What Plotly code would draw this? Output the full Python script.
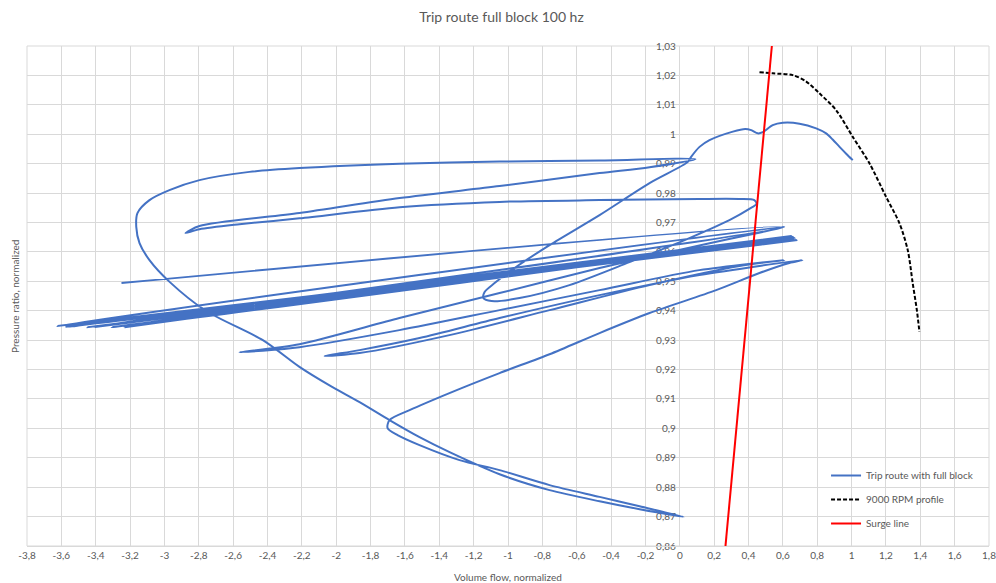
import plotly.graph_objects as go

# Trip route with full block: normalized volume flow vs pressure ratio
trip_flow = [
    1.007, 0.970, 0.930, 0.890, 0.852, 0.794, 0.697, 0.600, 0.541, 0.483, 0.454, 0.416, 0.381, 0.309, 0.173, 0.115, 0.066, 0.047,
    -0.176, -0.467, -0.758, -0.962, -1.078, -1.137, -1.143, -1.096, -0.933, -0.642, -0.293, 0.056, 0.289, 0.405, 0.446, 0.434,
    0.347, 0.114, -0.467, -1.049, -1.631, -2.214, -2.563, -2.796, -2.877,
    -2.796, -2.214, -1.631, -1.049, -0.467, -0.176, 0.091,
    -0.467, -1.049, -1.631, -2.214, -2.505, -2.796, -2.971, -3.087, -3.157, -3.164, -3.145, -3.087, -2.970, -2.757, -2.427, -2.214,
    -2.039, -1.864, -1.690, -1.515, -1.340, -1.049, -0.758, -0.467, -0.234, 0.022,
    -0.234, -0.467, -0.758, -1.049, -1.282, -1.515, -1.643, -1.701, -1.690, -1.573, -1.341, -1.049, -0.758, -0.467, -0.176, 0.212,
    0.464, 0.638, 0.714,
    0.114, -0.467, -1.049, -1.515, -1.864, -2.067,
    -1.864, -1.341, -0.758, -0.176, 0.348, 0.609,
    0.114, -0.467, -1.049, -1.632, -2.214, -2.563,
    -2.214, -1.632, -1.049, -0.467, 0.114, 0.500, 0.6085,
    -3.622, 0.668, -3.576, 0.650, -3.524, 0.679, -3.448, 0.660, -3.378, 0.672, -3.308, 0.655, -3.232, 0.668,
    -3.550, 0.660, -3.400, 0.6085, -3.250,
]
trip_pressure = [
    0.9912, 0.9933, 0.9957, 0.9982, 1.0003, 1.0020, 1.0036, 1.0039, 1.0031, 1.0007, 1.0003, 1.0014, 1.0018, 1.0009, 0.9980, 0.9957, 0.9923, 0.9906,
    0.9834, 0.9725, 0.9623, 0.9545, 0.9494, 0.9463, 0.9443, 0.9433, 0.9443, 0.9487, 0.9565, 0.9647, 0.9708, 0.9746, 0.9763, 0.9776,
    0.9780, 0.9780, 0.9776, 0.9770, 0.9752, 0.9714, 0.9694, 0.9677, 0.9664,
    0.9688, 0.9732, 0.9783, 0.9824, 0.9868, 0.9888, 0.9915,
    0.9911, 0.9907, 0.9900, 0.9885, 0.9872, 0.9844, 0.9810, 0.9776, 0.9732, 0.9685, 0.9630, 0.9572, 0.9498, 0.9399, 0.9300, 0.9209,
    0.9146, 0.9089, 0.9028, 0.8970, 0.8919, 0.8844, 0.8790, 0.8752, 0.8725, 0.8699,
    0.8735, 0.8767, 0.8807, 0.8858, 0.8892, 0.8943, 0.8977, 0.9001, 0.9028, 0.9062, 0.9120, 0.9188, 0.9252, 0.9324, 0.9392, 0.9470,
    0.9528, 0.9562, 0.9572,
    0.9521, 0.9453, 0.9375, 0.9307, 0.9266, 0.9246,
    0.9256, 0.9317, 0.9402, 0.9487, 0.9552, 0.9572,
    0.9538, 0.9470, 0.9402, 0.9334, 0.9276, 0.9259,
    0.9286, 0.9375, 0.9460, 0.9545, 0.9622, 0.9670, 0.9685,
    0.9348, 0.9647, 0.9345, 0.9654, 0.9348, 0.9640, 0.9344, 0.9650, 0.9347, 0.9645, 0.9344, 0.9652, 0.9344, 0.9648,
    0.9346, 0.9650, 0.9345, 0.9685, 0.9494,
]

# 9000 RPM speed line
rpm_flow = [0.464, 0.541, 0.658, 0.736, 0.813, 0.910, 1.007, 1.104, 1.201, 1.279, 1.327, 1.356, 1.380, 1.395]
rpm_pressure = [1.0211, 1.0207, 1.0201, 1.0179, 1.0139, 1.0082, 0.9991, 0.9901, 0.9787, 0.9697, 0.9606, 0.9493, 0.9402, 0.9328]

# Surge line
surge_flow = [0.266, 0.536]
surge_pressure = [0.86, 1.03]

x_tick_vals = [-3.8, -3.6, -3.4, -3.2, -3.0, -2.8, -2.6, -2.4, -2.2, -2.0, -1.8, -1.6, -1.4, -1.2, -1.0,
               -0.8, -0.6, -0.4, -0.2, 0.0, 0.2, 0.4, 0.6, 0.8, 1.0, 1.2, 1.4, 1.6, 1.8]
x_tick_text = ["-3,8", "-3,6", "-3,4", "-3,2", "-3", "-2,8", "-2,6", "-2,4", "-2,2", "-2", "-1,8", "-1,6", "-1,4", "-1,2", "-1",
               "-0,8", "-0,6", "-0,4", "-0,2", "0", "0,2", "0,4", "0,6", "0,8", "1", "1,2", "1,4", "1,6", "1,8"]
y_tick_vals = [0.86, 0.87, 0.88, 0.89, 0.90, 0.91, 0.92, 0.93, 0.94, 0.95, 0.96, 0.97, 0.98, 0.99, 1.00, 1.01, 1.02, 1.03]
y_tick_text = ["0,86", "0,87", "0,88", "0,89", "0,9", "0,91", "0,92", "0,93", "0,94", "0,95", "0,96", "0,97", "0,98", "0,99",
               "1", "1,01", "1,02", "1,03"]

X_MIN, X_MAX = -3.8, 1.8
Y_MIN, Y_MAX = 0.86, 1.03

FONT = "Lato, 'Open Sans', sans-serif"
GREY_TEXT = "#595959"
GRID = "#d9d9d9"

fig = go.Figure()
fig.add_trace(go.Scatter(x=trip_flow, y=trip_pressure, mode="lines", name="Trip route with full block",
                         line=dict(color="#4472C4", width=2, shape="spline", smoothing=0.8), legendgroup="a"))
fig.add_trace(go.Scatter(x=rpm_flow, y=rpm_pressure, mode="lines", name="9000 RPM profile",
                         line=dict(color="#000000", width=2, dash="4px,2px", shape="spline", smoothing=0.8),
                         legendgroup="b"))
fig.add_trace(go.Scatter(x=surge_flow, y=surge_pressure, mode="lines", name="Surge line",
                         line=dict(color="#FF0000", width=2), legendgroup="c"))

fig.update_layout(
    width=996, height=583,
    margin=dict(l=27, r=7, t=46, b=37, autoexpand=False),
    paper_bgcolor="white", plot_bgcolor="white",
    font=dict(family=FONT, color=GREY_TEXT, size=10),
    title=dict(text="Trip route full block 100 hz", x=0.5035, xref="container", xanchor="center",
               y=0.97, yref="container", yanchor="middle",
               font=dict(family=FONT, size=14, color=GREY_TEXT)),
    xaxis=dict(range=[X_MIN, X_MAX], tickmode="array", tickvals=x_tick_vals, ticktext=x_tick_text,
               showgrid=True, gridcolor=GRID, gridwidth=1, zeroline=False, ticklabeloverflow="allow",
               automargin=False,
               showline=True, linecolor=GRID, ticks="", tickfont=dict(size=10, color=GREY_TEXT)),
    yaxis=dict(range=[Y_MIN, Y_MAX], tickmode="array", tickvals=y_tick_vals, ticktext=y_tick_text,
               anchor="free", position=(0 - X_MIN) / (X_MAX - X_MIN), automargin=False,
               showgrid=True, gridcolor=GRID, gridwidth=1, zeroline=False, showline=False,
               ticks="", ticklabelstandoff=4, layer="below traces", ticklabeloverflow="allow",
               tickfont=dict(size=10, color=GREY_TEXT)),
    showlegend=True,
    legend=dict(x=0.8306, xanchor="left", y=0.17, yanchor="top", bgcolor="rgba(0,0,0,0)",
                font=dict(size=10, color=GREY_TEXT, family=FONT), tracegroupgap=5),
)

fig.add_shape(type="rect", xref="paper", yref="paper", x0=0, y0=0, x1=1, y1=1,
              line=dict(color=GRID, width=1), layer="below")

fig.add_annotation(text="Volume flow, normalized", xref="paper", yref="paper", x=0.5, y=-0.0626,
                   xanchor="center", yanchor="middle", showarrow=False,
                   font=dict(family=FONT, size=10, color=GREY_TEXT))
fig.add_annotation(text="Pressure ratio, normalized", xref="paper", yref="paper", x=-0.0125, y=0.5,
                   xanchor="center", yanchor="middle", textangle=-90, showarrow=False,
                   font=dict(family=FONT, size=10, color=GREY_TEXT))

fig.write_html("out.html")
